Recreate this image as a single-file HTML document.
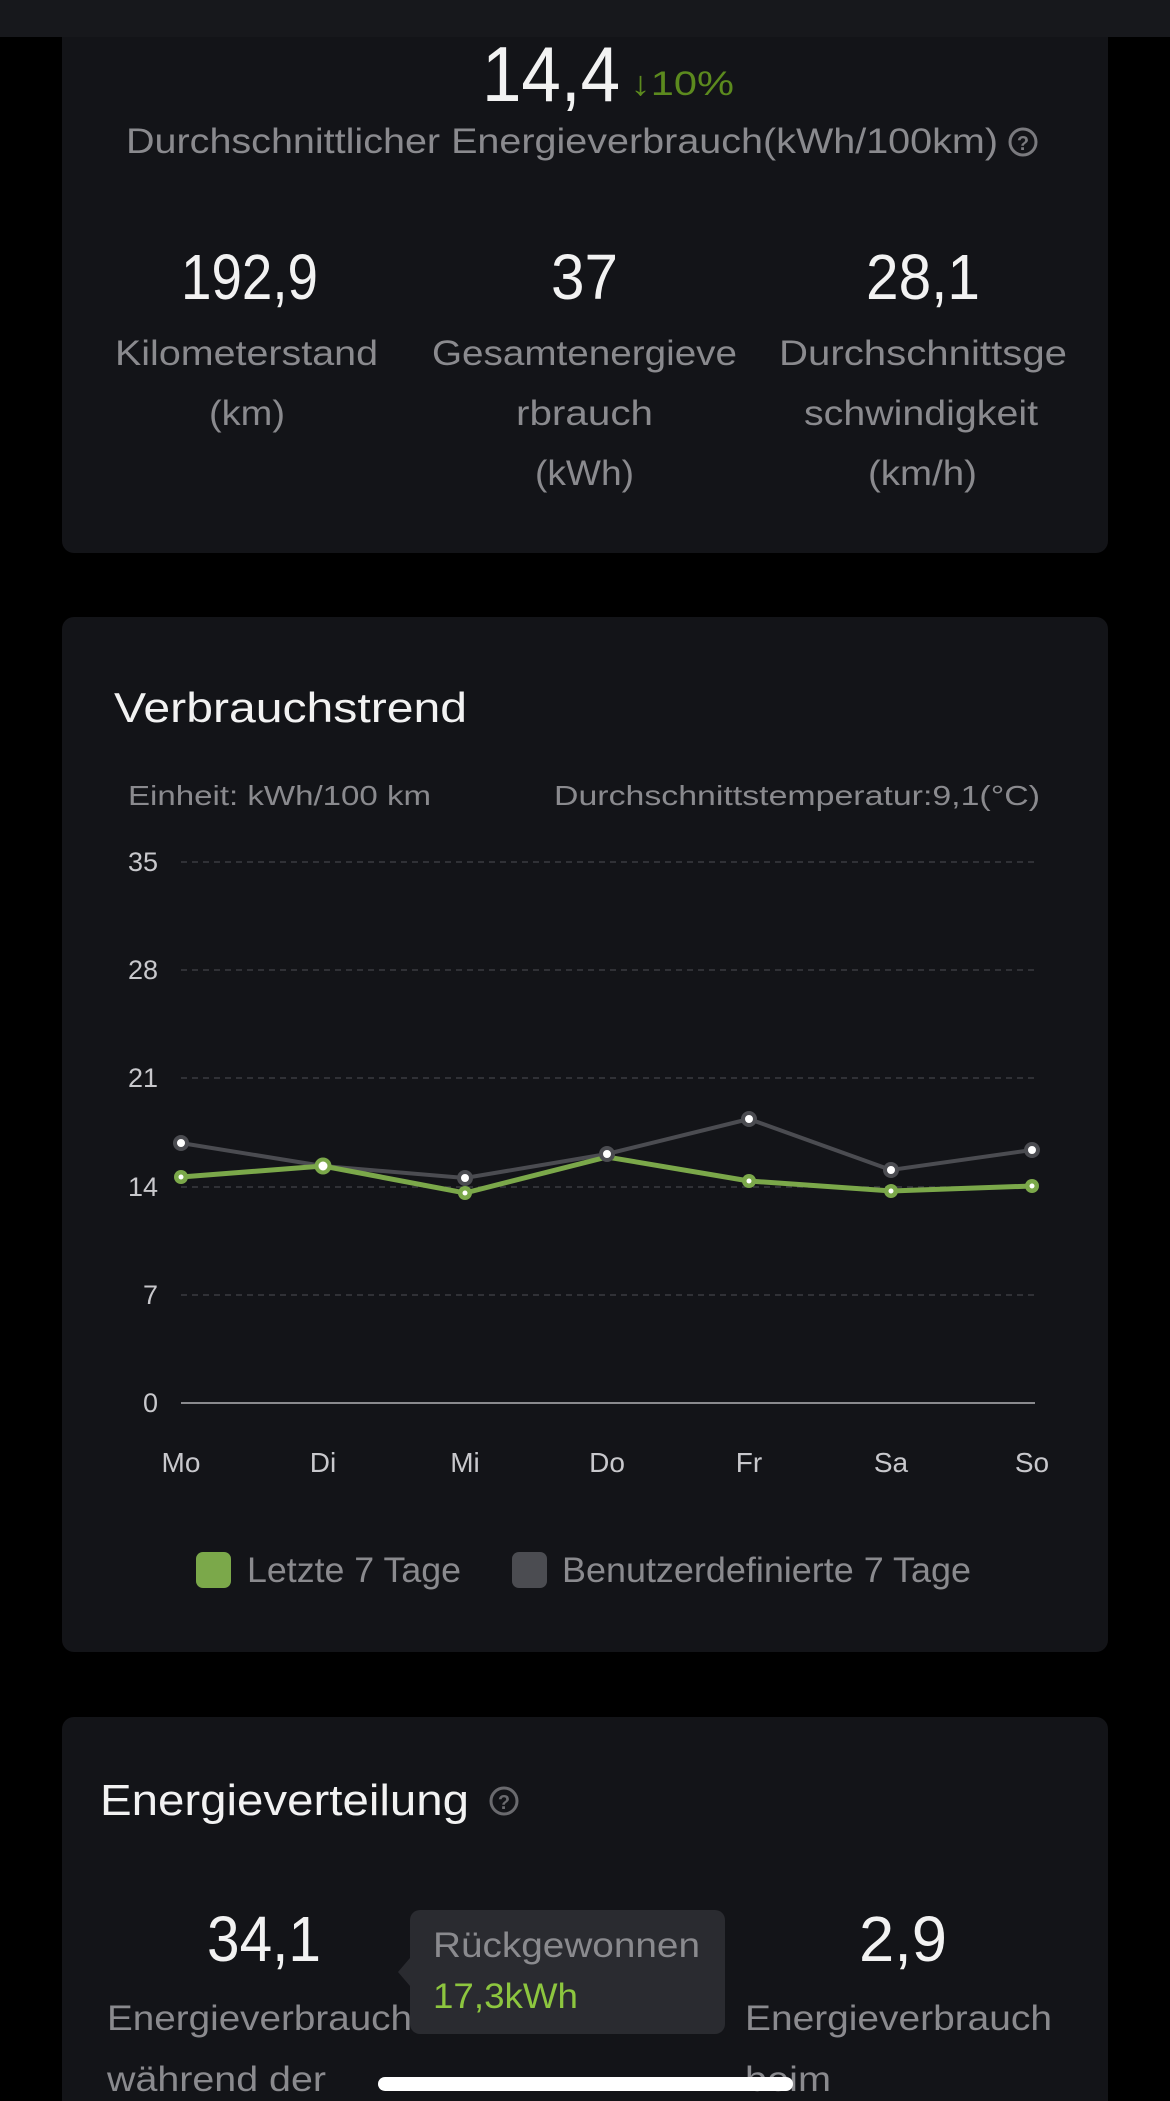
<!DOCTYPE html>
<html><head><meta charset="utf-8"><style>
html,body{margin:0;padding:0;background:#000;width:1170px;height:2101px;overflow:hidden}
svg{display:block}
text{font-family:"Liberation Sans",sans-serif}
</style></head><body>
<svg width="1170" height="2101" viewBox="0 0 1170 2101" xmlns="http://www.w3.org/2000/svg">
<rect width="1170" height="2101" fill="#000"/>
<!-- card 1 -->
<rect x="62" y="-20" width="1046" height="573" rx="12" fill="#131418"/>
<rect x="0" y="0" width="1170" height="37" fill="#17181c"/>
<text x="482" y="101" font-size="78" fill="#f2f2f2" textLength="138" lengthAdjust="spacingAndGlyphs">14,4</text>
<text x="630" y="95" font-size="34" fill="#5c8a1e" textLength="104" lengthAdjust="spacingAndGlyphs">↓10%</text>
<text x="126" y="153" font-size="35" fill="#8a8a8e" textLength="872" lengthAdjust="spacingAndGlyphs">Durchschnittlicher Energieverbrauch(kWh/100km)</text>
<circle cx="1023" cy="142" r="13" fill="none" stroke="#7a7a7e" stroke-width="3"/>
<text x="1023" y="150" font-size="20" fill="#7a7a7e" text-anchor="middle" font-weight="bold">?</text>
<g font-size="64" fill="#f2f2f2">
<text x="181" y="299" textLength="137" lengthAdjust="spacingAndGlyphs">192,9</text>
<text x="551" y="299" textLength="67" lengthAdjust="spacingAndGlyphs">37</text>
<text x="866" y="299" textLength="114" lengthAdjust="spacingAndGlyphs">28,1</text>
</g>
<g font-size="35" fill="#8a8a8e">
<text x="115" y="365" textLength="263" lengthAdjust="spacingAndGlyphs">Kilometerstand</text>
<text x="209" y="425" textLength="76" lengthAdjust="spacingAndGlyphs">(km)</text>
<text x="432" y="365" textLength="305" lengthAdjust="spacingAndGlyphs">Gesamtenergieve</text>
<text x="516" y="425" textLength="137" lengthAdjust="spacingAndGlyphs">rbrauch</text>
<text x="535" y="485" textLength="99" lengthAdjust="spacingAndGlyphs">(kWh)</text>
<text x="779" y="365" textLength="288" lengthAdjust="spacingAndGlyphs">Durchschnittsge</text>
<text x="804" y="425" textLength="234" lengthAdjust="spacingAndGlyphs">schwindigkeit</text>
<text x="868" y="485" textLength="109" lengthAdjust="spacingAndGlyphs">(km/h)</text>
</g>
<!-- card 2 -->
<rect x="62" y="617" width="1046" height="1035" rx="12" fill="#131418"/>
<text x="114" y="722" font-size="42" fill="#f2f2f2" textLength="353" lengthAdjust="spacingAndGlyphs">Verbrauchstrend</text>
<text x="128" y="805" font-size="28" fill="#8a8a8e" textLength="303" lengthAdjust="spacingAndGlyphs">Einheit: kWh/100 km</text>
<text x="554" y="805" font-size="28" fill="#8a8a8e" textLength="486" lengthAdjust="spacingAndGlyphs">Durchschnittstemperatur:9,1(°C)</text>
<g stroke="#3a3b40" stroke-width="1.5" stroke-dasharray="6,5">
<line x1="181" y1="862" x2="1035" y2="862"/>
<line x1="181" y1="970" x2="1035" y2="970"/>
<line x1="181" y1="1078" x2="1035" y2="1078"/>
<line x1="181" y1="1187" x2="1035" y2="1187"/>
<line x1="181" y1="1295" x2="1035" y2="1295"/>
</g>
<line x1="181" y1="1403" x2="1035" y2="1403" stroke="#8a8a8e" stroke-width="2"/>
<g font-size="27" fill="#c8c8cc" text-anchor="end">
<text x="158" y="871">35</text><text x="158" y="979">28</text><text x="158" y="1087">21</text>
<text x="158" y="1196">14</text><text x="158" y="1304">7</text><text x="158" y="1412">0</text>
</g>
<g font-size="28" fill="#c8c8cc" text-anchor="middle">
<text x="181" y="1472">Mo</text><text x="323" y="1472">Di</text><text x="465" y="1472">Mi</text>
<text x="607" y="1472">Do</text><text x="749" y="1472">Fr</text><text x="891" y="1472">Sa</text><text x="1032" y="1472">So</text>
</g>
<polyline points="181,1143 323,1166 465,1178 607,1154 749,1119 891,1170 1032,1150" fill="none" stroke="#4b4c51" stroke-width="4"/>
<polyline points="181,1177 323,1166 465,1193 607,1157 749,1181 891,1191 1032,1186" fill="none" stroke="#7ba84a" stroke-width="5"/>
<g fill="#fff" stroke="#4b4c51" stroke-width="4">
<circle cx="181" cy="1143" r="6"/><circle cx="465" cy="1178" r="6"/><circle cx="607" cy="1154" r="6"/>
<circle cx="749" cy="1119" r="6"/><circle cx="891" cy="1170" r="6"/><circle cx="1032" cy="1150" r="6"/>
</g>
<g fill="#7ba84a">
<circle cx="181" cy="1177" r="7"/><circle cx="465" cy="1193" r="7"/><circle cx="749" cy="1181" r="7"/>
<circle cx="891" cy="1191" r="7"/><circle cx="1032" cy="1186" r="7"/>
</g>
<g fill="#fff">
<circle cx="181" cy="1177" r="2.5"/><circle cx="465" cy="1193" r="2.5"/><circle cx="749" cy="1181" r="2.5"/>
<circle cx="891" cy="1191" r="2.5"/><circle cx="1032" cy="1186" r="2.5"/>
</g>
<circle cx="323" cy="1166" r="6.5" fill="#fff" stroke="#7ba84a" stroke-width="4"/>
<rect x="196" y="1552" width="35" height="36" rx="7" fill="#7ba84a"/>
<text x="247" y="1582" font-size="35" fill="#8a8a8e" textLength="214" lengthAdjust="spacingAndGlyphs">Letzte 7 Tage</text>
<rect x="512" y="1552" width="35" height="36" rx="7" fill="#4b4c51"/>
<text x="562" y="1582" font-size="35" fill="#8a8a8e" textLength="409" lengthAdjust="spacingAndGlyphs">Benutzerdefinierte 7 Tage</text>
<!-- card 3 -->
<rect x="62" y="1717" width="1046" height="420" rx="12" fill="#131418"/>
<text x="100" y="1815" font-size="44" fill="#f2f2f2" textLength="369" lengthAdjust="spacingAndGlyphs">Energieverteilung</text>
<circle cx="504" cy="1801" r="13" fill="none" stroke="#6a6a6e" stroke-width="3"/>
<text x="504" y="1809" font-size="20" fill="#6a6a6e" text-anchor="middle" font-weight="bold">?</text>
<text x="207" y="1961" font-size="64" fill="#f2f2f2" textLength="114" lengthAdjust="spacingAndGlyphs">34,1</text>
<text x="859" y="1961" font-size="64" fill="#f2f2f2" textLength="88" lengthAdjust="spacingAndGlyphs">2,9</text>
<g font-size="35" fill="#8a8a8e">
<text x="107" y="2030" textLength="305" lengthAdjust="spacingAndGlyphs">Energieverbrauch</text>
<text x="107" y="2091" textLength="219" lengthAdjust="spacingAndGlyphs">während der</text>
<text x="745" y="2030" textLength="307" lengthAdjust="spacingAndGlyphs">Energieverbrauch</text>
<text x="745" y="2091" textLength="86" lengthAdjust="spacingAndGlyphs">beim</text>
</g>
<rect x="410" y="1910" width="315" height="124" rx="10" fill="#2a2b30"/>
<polygon points="410,1958 398,1972 410,1986" fill="#2a2b30"/>
<text x="433" y="1957" font-size="35" fill="#8a8a8e" textLength="267" lengthAdjust="spacingAndGlyphs">Rückgewonnen</text>
<text x="433" y="2008" font-size="35" fill="#8dc63f" textLength="145" lengthAdjust="spacingAndGlyphs">17,3kWh</text>
<rect x="378" y="2077" width="415" height="14" rx="7" fill="#fff"/>
</svg>
</body></html>
